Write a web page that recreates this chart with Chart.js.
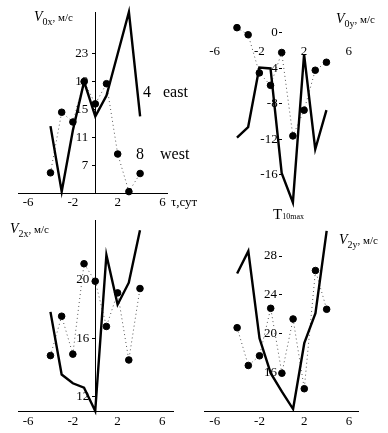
<!DOCTYPE html>
<html>
<head>
<meta charset="utf-8">
<script src="https://cdn.jsdelivr.net/npm/chart.js@4.4.1/dist/chart.umd.min.js"></script>
<style>
    body { margin: 0; background: #fff; }
    #wrap { position: relative; width: 388px; height: 433px; overflow: hidden; }
    canvas { position: absolute; left: 0; top: 0; }
    .lbl { position: absolute; font-family: "Liberation Serif", serif; color: #000; white-space: nowrap; line-height: 1; }
    .v { font-style: italic; font-size: 14px; }
    .sub { font-size: 10px; position: relative; top: 4px; }
    .unit { font-size: 11px; }
</style>
</head>
<body>
<div id="wrap">
    <canvas id="c0x" width="388" height="433"></canvas>
    <canvas id="c0y" width="388" height="433"></canvas>
    <canvas id="c2x" width="388" height="433"></canvas>
    <canvas id="c2y" width="388" height="433"></canvas>

    <div class="lbl" style="left:34px;top:8px"><span class="v">V</span><span class="sub">0x</span><span class="unit">, м/с</span></div>
    <div class="lbl" style="left:336px;top:10px"><span class="v">V</span><span class="sub">0y</span><span class="unit">, м/с</span></div>
    <div class="lbl" style="left:10px;top:220px"><span class="v">V</span><span class="sub">2x</span><span class="unit">, м/с</span></div>
    <div class="lbl" style="left:339px;top:231px"><span class="v">V</span><span class="sub">2y</span><span class="unit">, м/с</span></div>
    <div class="lbl" style="left:143px;top:84px;font-size:16px">4&nbsp;&nbsp; east</div>
    <div class="lbl" style="left:136px;top:146px;font-size:16px">8&nbsp;&nbsp;&nbsp; west</div>
    <div class="lbl" style="left:171px;top:195px;font-size:13px">τ,сут</div>
    <div class="lbl" style="left:273px;top:207px;font-size:15px">T<span style="font-size:8px">10max</span></div>
</div>

<script>
// time from event, days
const tau = [-4, -3, -2, -1, 0, 1, 2, 3, 4];
const xTicks = [-6, -2, 2, 6];

// V0x: east (solid) and west (dots)
const v0xEast = [12.6, 3.2, 12, 19, 14, 17, 23, 29, 14];
const v0xWest = [5.9, 14.6, 13.2, 19, 15.8, 18.7, 8.6, 3.2, 5.8];
const v0xTicks = [7, 11, 15, 19, 23];

// V0y
const v0yLine = [-11.8, -10.6, -3.9, -4.0, -15.8, -19.1, -2.4, -13.1, -8.7];
const v0yDots = [0.6, -0.2, -4.5, -5.9, -2.2, -11.6, -8.7, -4.2, -3.3];
const v0yTicks = [0, -4, -8, -12, -16];

// V2x
const v2xLine = [17.8, 13.5, 12.9, 12.6, 11.0, 21.7, 18.3, 19.8, 23.4];
const v2xDots = [14.8, 17.5, 14.9, 21.1, 19.9, 16.8, 19.1, 14.5, 19.4];
const v2xTicks = [12, 16, 20];

// V2y
const v2yLine = [26.2, 28.5, 19.5, 15.9, 14.0, 12.2, 19.0, 22.1, 30.6];
const v2yDots = [20.6, 16.7, 17.7, 22.6, 15.9, 21.5, 14.3, 26.5, 22.5];
const v2yTicks = [16, 20, 24, 28];

const FONT = { family: "'Liberation Serif', serif", size: 13 };

// y axis sitting at x=0 draws its labels right on the line, so push them left
class ShiftedLinear extends Chart.LinearScale {
    _computeLabelItems(chartArea) {
        const items = super._computeLabelItems(chartArea);
        const dx = this.options.labelShift || 0;
        items.forEach(it => { it.options.translation[0] -= dx; });
        return items;
    }
}
ShiftedLinear.id = "shiftedLinear";
ShiftedLinear.defaults = Chart.LinearScale.defaults;
Chart.register(ShiftedLinear);

const pts = vals => vals.map((v, i) => ({ x: tau[i], y: v }));

function makePanel(id, p) {
    new Chart(document.getElementById(id), {
        type: "line",
        data: {
            datasets: [
                {
                    data: pts(p.line),
                    borderColor: "#000",
                    borderWidth: 2.4,
                    pointRadius: 0,
                    tension: 0
                },
                {
                    data: pts(p.dots),
                    borderColor: "#555",
                    borderWidth: 1,
                    borderDash: [1, 3],
                    pointRadius: 3.3,
                    pointBackgroundColor: "#000",
                    pointBorderColor: "#000",
                    tension: 0
                }
            ]
        },
        options: {
            responsive: false,
            animation: false,
            events: [],
            clip: false,
            layout: { padding: p.area },
            plugins: { legend: { display: false }, tooltip: { enabled: false } },
            scales: {
                x: {
                    type: "linear",
                    min: p.xMin, max: p.xMax,
                    position: { y: p.xAt },
                    afterBuildTicks: s => { s.ticks = xTicks.map(v => ({ value: v })); },
                    grid: { drawOnChartArea: false, drawTicks: false },
                    border: { display: p.xLine, color: "#000", width: 1 },
                    ticks: { color: "#000", font: FONT, padding: p.xPad, maxRotation: 0 }
                },
                y: {
                    type: "shiftedLinear",
                    min: p.yMin, max: p.yMax,
                    position: { x: 0 },
                    labelShift: p.yShift,
                    afterBuildTicks: s => { s.ticks = p.yTicks.map(v => ({ value: v })); },
                    grid: { drawOnChartArea: false, drawTicks: true, tickLength: 3, color: "#000" },
                    border: { display: p.yLine, color: "#000", width: 1 },
                    ticks: { color: "#000", font: FONT, padding: 3 }
                }
            }
        }
    });
}

makePanel("c0x", {
    line: v0xEast, dots: v0xWest, yTicks: v0xTicks,
    xMin: -6.9, xMax: 6.4, yMin: 3, yMax: 29, xAt: 3,
    area: { left: 18, top: 12, right: 388 - 167, bottom: 433 - 193 },
    xLine: true, yLine: true, xPad: 2, yShift: 7
});

makePanel("c0y", {
    line: v0yLine, dots: v0yDots, yTicks: v0yTicks,
    xMin: -6.5, xMax: 7, yMin: -19.5, yMax: 2.5, xAt: -0.9,
    area: { left: 209, top: 10, right: 388 - 360, bottom: 433 - 206 },
    xLine: false, yLine: false, xPad: 3, yShift: 4
});

makePanel("c2x", {
    line: v2xLine, dots: v2xDots, yTicks: v2xTicks,
    xMin: -6.9, xMax: 6.95, yMin: 11, yMax: 24.1, xAt: 11,
    area: { left: 18, top: 220, right: 388 - 173, bottom: 433 - 411 },
    xLine: true, yLine: true, xPad: 3, yShift: 6
});

makePanel("c2y", {
    line: v2yLine, dots: v2yDots, yTicks: v2yTicks,
    xMin: -6.96, xMax: 6.8, yMin: 12, yMax: 31.2, xAt: 12,
    area: { left: 204, top: 225, right: 388 - 358, bottom: 433 - 411 },
    xLine: true, yLine: false, xPad: 3, yShift: 5
});
</script>
</body>
</html>
